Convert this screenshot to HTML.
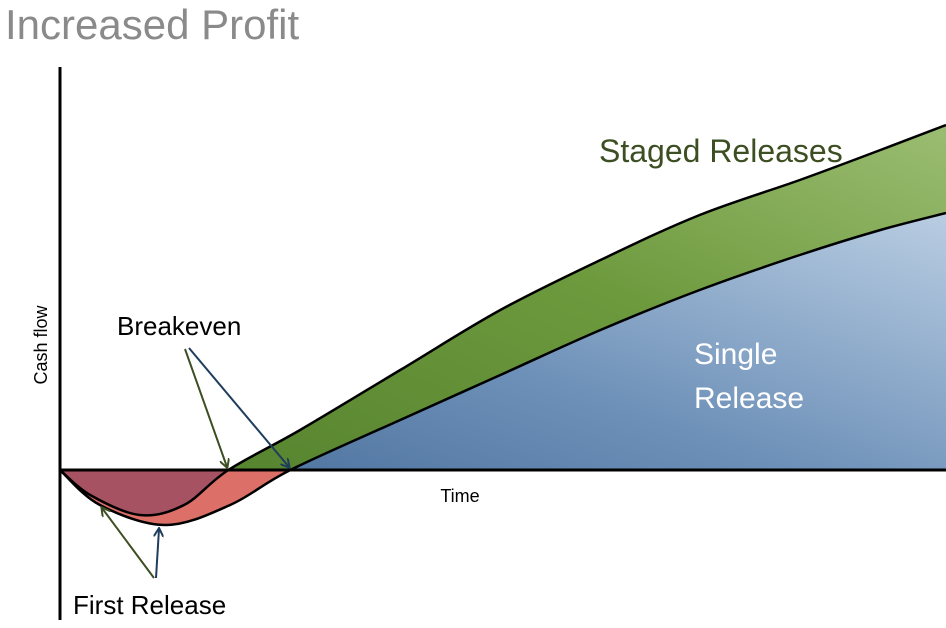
<!DOCTYPE html>
<html><head><meta charset="utf-8"><style>
html,body{margin:0;padding:0;background:#fff;}
svg{display:block;font-family:"Liberation Sans",sans-serif;}
</style></head><body>
<svg id="chart" width="946" height="628" viewBox="0 0 946 628">
<defs>
<linearGradient id="blueG" x1="0" y1="1" x2="1" y2="0">
<stop offset="0" stop-color="#3d6491"/><stop offset="0.5" stop-color="#6d90b8"/><stop offset="1" stop-color="#b9cde2"/></linearGradient>
<linearGradient id="greenG" x1="0" y1="1" x2="1" y2="0">
<stop offset="0" stop-color="#4f7d2a"/><stop offset="0.6" stop-color="#6e9a3e"/><stop offset="1" stop-color="#9bbd72"/></linearGradient>
<clipPath id="above"><rect x="0" y="0" width="946" height="470"/></clipPath>
<clipPath id="below"><rect x="0" y="470" width="946" height="200"/></clipPath>
<marker id="arrG" markerWidth="10" markerHeight="10" refX="8" refY="5" orient="auto" markerUnits="userSpaceOnUse"><path d="M0,0 L9,5 L0,10" fill="none" stroke="#3d4f22" stroke-width="2"/></marker>
<marker id="arrB" markerWidth="10" markerHeight="10" refX="8" refY="5" orient="auto" markerUnits="userSpaceOnUse"><path d="M0,0 L9,5 L0,10" fill="none" stroke="#1f3d5c" stroke-width="2"/></marker>
</defs>
<text x="5" y="39" font-size="42" fill="#8a8a8a">Increased Profit</text>
<g id="areas"></g>
<line x1="60" y1="67" x2="60" y2="620" stroke="#000" stroke-width="3"/>
<line x1="60" y1="470" x2="946" y2="470" stroke="#000" stroke-width="3"/>
<text transform="translate(47,345) rotate(-90)" text-anchor="middle" font-size="18" fill="#000">Cash flow</text>
<text x="460" y="502" text-anchor="middle" font-size="18" fill="#000">Time</text>
<text x="599" y="162" font-size="32" fill="#3d4f22">Staged Releases</text>
<text x="694" y="364" font-size="30" fill="#fff">Single</text>
<text x="694" y="408" font-size="30" fill="#fff">Release</text>
<text x="117" y="335" font-size="26" fill="#000">Breakeven</text>
<text x="73" y="614" font-size="26" fill="#000">First Release</text>
<line x1="185" y1="349" x2="227" y2="467" stroke="#3d4f22" stroke-width="2" marker-end="url(#arrG)"/>
<line x1="189" y1="348" x2="289" y2="467" stroke="#1f3d5c" stroke-width="2" marker-end="url(#arrB)"/>
<line x1="154" y1="578" x2="102" y2="508" stroke="#3d4f22" stroke-width="2" marker-end="url(#arrG)"/>
<line x1="156" y1="578" x2="159" y2="529" stroke="#1f3d5c" stroke-width="2" marker-end="url(#arrB)"/>
</svg>
<script>
const singleTime = [0, 4.5, 11.9, 19.2, 26, 38.4, 49.7, 61, 72.2, 83.5, 92.6, 100];
const singleCash = [0, -17.5, -27.5, -17.5, 0, 25, 47.5, 70, 90, 107.5, 120, 128.5];
const stagedTime = [0, 3.4, 9, 14, 19, 27.1, 38.4, 49.7, 61, 72.2, 83.5, 92.6, 100];
const stagedCash = [0, -12.5, -22.5, -17.5, 0, 20, 50, 80, 105, 127.5, 145, 160, 172.5];

function xS(t){ return 60 + t * 8.86; }
function yS(v){ return 470 - v * 2; }
function curve(ts, vs){
  const p = ts.map((t,i)=>[xS(t), yS(vs[i])]);
  let d = 'M' + p[0][0] + ',' + p[0][1];
  for (let i=0;i<p.length-1;i++){
    const p0=p[Math.max(0,i-1)], p1=p[i], p2=p[i+1], p3=p[Math.min(p.length-1,i+2)];
    const c1=[p1[0]+(p2[0]-p0[0])/6, p1[1]+(p2[1]-p0[1])/6];
    const c2=[p2[0]-(p3[0]-p1[0])/6, p2[1]-(p3[1]-p1[1])/6];
    d += ' C'+c1[0]+','+c1[1]+' '+c2[0]+','+c2[1]+' '+p2[0]+','+p2[1];
  }
  return d;
}
const NS='http://www.w3.org/2000/svg';
const g=document.getElementById('areas');
const sLine=curve(singleTime,singleCash), gLine=curve(stagedTime,stagedCash);
const sArea=sLine+' L'+xS(100)+','+yS(0)+' Z';
const gArea=gLine+' L'+xS(100)+','+yS(0)+' Z';
function add(d, fill, clip, stroke){
  const p=document.createElementNS(NS,'path');
  p.setAttribute('d',d);
  p.setAttribute('fill',fill);
  if(clip) p.setAttribute('clip-path','url(#'+clip+')');
  if(stroke){p.setAttribute('stroke','#000');p.setAttribute('stroke-width','2.5');}
  g.appendChild(p);
  return p;
}
let e;
e=add(gArea,'url(#greenG)','above');


e=add(sArea,'url(#blueG)','above');


e=add(sArea,'#dc7068','below');


e=add(gArea,'#a65262','below');


e=add(gLine,'none',null,true);


e=add(sLine,'none',null,true);


</script>
</body></html>
